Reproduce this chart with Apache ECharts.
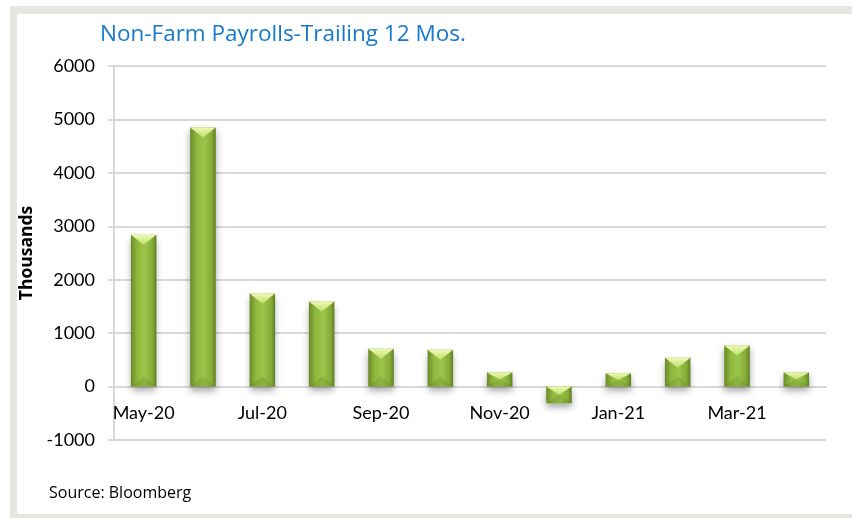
<!DOCTYPE html>
<html>
<head>
<meta charset="utf-8">
<script src="https://cdn.jsdelivr.net/npm/echarts@6/dist/echarts.min.js"></script>
<style>
  html, body { margin: 0; padding: 0; background: #fff; }
  #chart { width: 852px; height: 519px; }
</style>
</head>
<body>
<div id="chart"></div>
<script>
// months shown on the x axis (every other one gets a label)
const months = ['May-20', 'Jun-20', 'Jul-20', 'Aug-20', 'Sep-20', 'Oct-20',
  'Nov-20', 'Dec-20', 'Jan-21', 'Feb-21', 'Mar-21', 'Apr-21']
// change in non-farm payrolls, thousands
const payrolls = [2840, 4850, 1740, 1590, 710, 690, 265, -310, 250, 540, 770, 265]
const yMin = -1000
const yMax = 6000
const yStep = 1000

const gridTop = 66
const gridBottom = 79
const chartH = 519
// category axis sits on the zero line, not at the bottom of the grid
const zeroShift = -(0 - yMin) / (yMax - yMin) * (chartH - gridTop - gridBottom)

const chart = echarts.init(document.getElementById('chart'))

// bevelled bar like the excel "cool slant" look
const renderBar = (params, api) => {
  const idx = api.value(0)
  const val = api.value(1)
  const p1 = api.coord([idx, val])
  const p0 = api.coord([idx, 0])
  const w = api.size([1, 0])[0] * 0.43
  const x = p1[0] - w / 2
  const top = Math.min(p0[1], p1[1])
  const bot = Math.max(p0[1], p1[1])
  const h = bot - top
  const bev = Math.min(10, h / 2)
  return {
    type: 'group',
    children: [
      {
        type: 'rect',
        shape: { x: x, y: top, width: w, height: h },
        style: {
          fill: new echarts.graphic.LinearGradient(0, 0, 1, 0, [
            { offset: 0, color: '#6a8a28' },
            { offset: 0.25, color: '#8fb83e' },
            { offset: 0.55, color: '#9cc54b' },
            { offset: 0.85, color: '#84ab36' },
            { offset: 1, color: '#5f7e22' }
          ]),
          shadowBlur: 7,
          shadowOffsetY: 4,
          shadowColor: 'rgba(0,0,0,0.35)'
        }
      },
      {
        type: 'polygon',
        shape: { points: [[x, top], [x + w, top], [p1[0], top + bev]] },
        style: {
          fill: new echarts.graphic.LinearGradient(0, 0, 0, 1, [
            { offset: 0, color: '#eef9b4' },
            { offset: 1, color: '#bfe06c' }
          ])
        }
      },
      {
        type: 'polygon',
        shape: { points: [[x, bot], [x + w, bot], [p1[0], bot - bev]] },
        style: { fill: 'rgba(80,110,25,0.2)' }
      }
    ]
  }
}

chart.setOption({
  animation: false,
  textStyle: { fontFamily: 'Lato' },
  graphic: [
    { type: 'rect', shape: { x: 10, y: 6, width: 850, height: 512 }, style: { fill: '#e6e5e0' }, z: -10 },
    { type: 'rect', shape: { x: 17, y: 14, width: 840, height: 500 }, style: { fill: '#ffffff' }, z: -9 },
    {
      type: 'text', left: 49, top: 485,
      style: { text: 'Source: Bloomberg', fontFamily: 'Open Sans', fontSize: 16, fill: '#000' }
    }
  ],
  title: {
    text: 'Non-Farm Payrolls-Trailing 12 Mos.',
    left: 100,
    top: 23,
    padding: 0,
    textStyle: { fontFamily: 'Open Sans', fontSize: 22.5, fontWeight: 'normal', color: '#1679cc' }
  },
  grid: { left: 114, right: 26, top: gridTop, bottom: gridBottom },
  xAxis: {
    type: 'category',
    data: months,
    offset: zeroShift,
    axisLine: { lineStyle: { color: '#d9d9d9', width: 2 } },
    axisTick: { interval: 1, length: 6, lineStyle: { color: '#d9d9d9', width: 2 } },
    axisLabel: { interval: 1, margin: 18, fontSize: 18, color: '#000' }
  },
  yAxis: {
    type: 'value',
    min: yMin,
    max: yMax,
    interval: yStep,
    name: 'Thousands',
    nameLocation: 'middle',
    nameRotate: 90,
    nameGap: 72,
    nameTextStyle: { fontFamily: 'Open Sans', fontSize: 17.5, fontWeight: 'bold', color: '#000' },
    axisLine: { show: true, lineStyle: { color: '#d9d9d9', width: 2 } },
    axisTick: { show: true, length: 6, lineStyle: { color: '#d9d9d9', width: 2 } },
    axisLabel: { margin: 19, fontSize: 18, color: '#000', formatter: v => String(v) },
    splitLine: { lineStyle: { color: '#d9d9d9', width: 2 } }
  },
  series: [{
    type: 'custom',
    renderItem: renderBar,
    encode: { x: 0, y: 1 },
    data: payrolls.map((v, i) => [i, v])
  }]
})
</script>
</body>
</html>
